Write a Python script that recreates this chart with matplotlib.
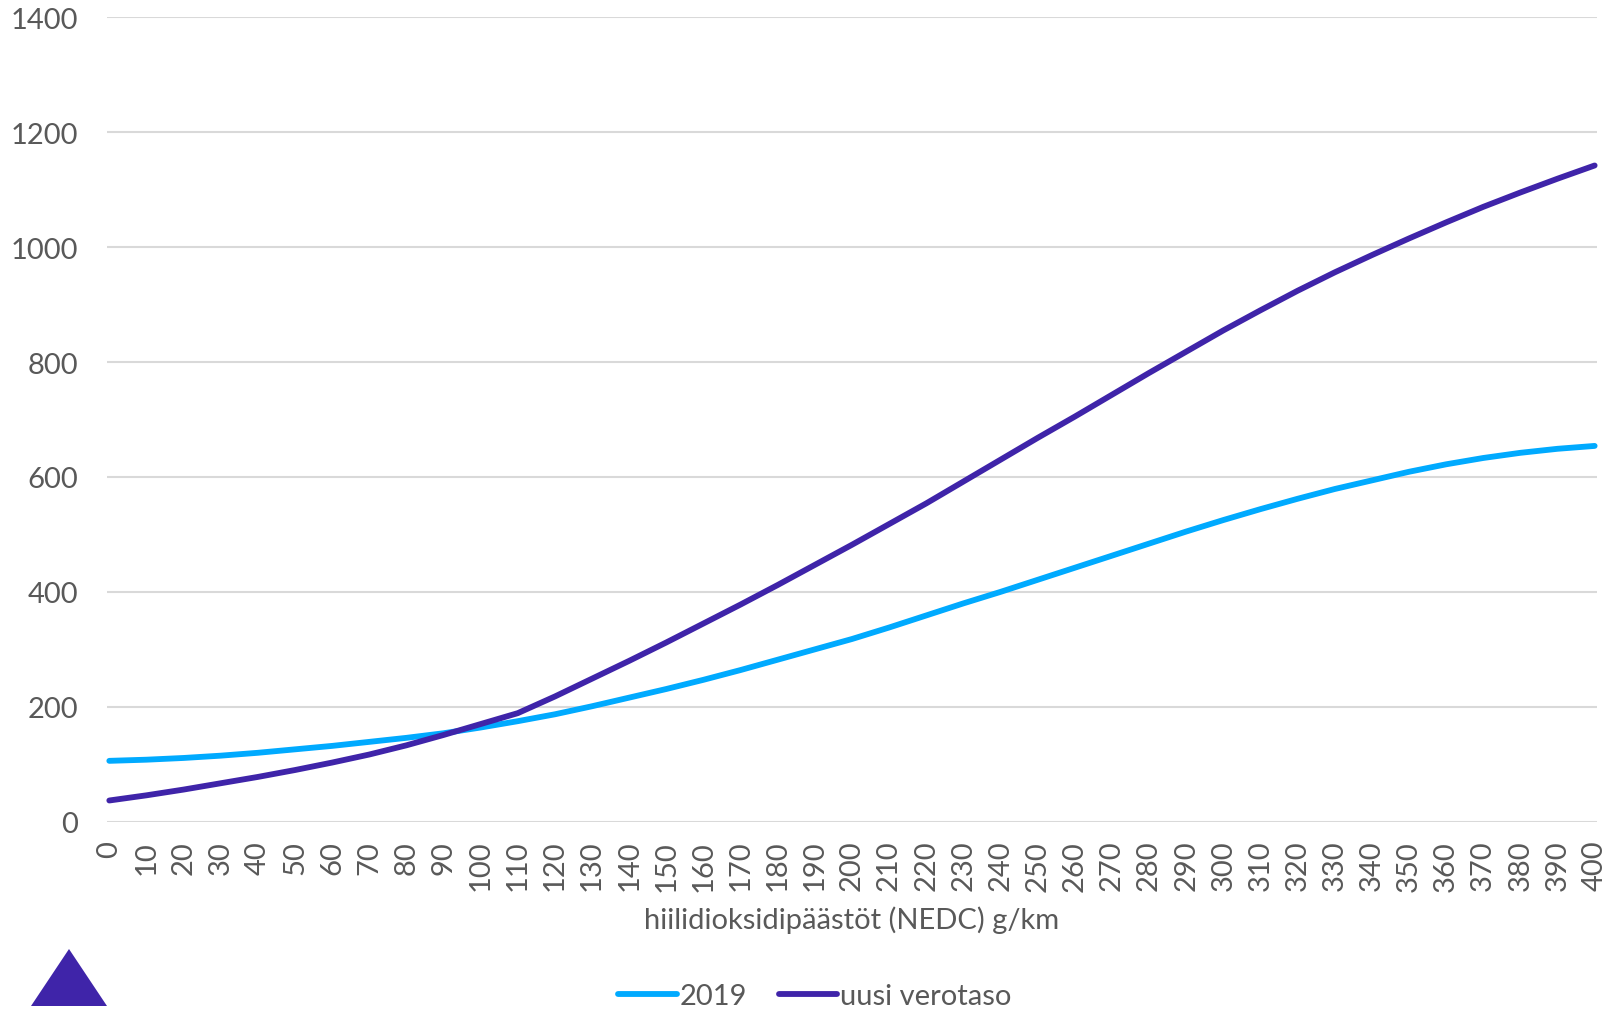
import matplotlib
matplotlib.use("Agg")
import matplotlib.pyplot as plt
from matplotlib.patches import Polygon

# CO2 emissions (g/km) and annual basic vehicle tax (EUR)
co2 = list(range(0, 401, 10))
tax_2019 = [106, 108, 111, 115, 120, 126, 132, 139, 146, 154,
            164, 175, 187, 201, 216, 231, 247, 264, 282, 300,
            318, 338, 359, 380, 400, 421, 442, 463, 484, 505,
            525, 544, 562, 579, 594, 609, 622, 633, 642, 649,
            654]
tax_new = [37, 46, 56, 67, 78, 90, 103, 117, 133, 151,
           170, 189, 218, 249, 280, 312, 345, 378, 412, 447,
           482, 518, 554, 592, 630, 668, 705, 743, 781, 818,
           855, 890, 924, 956, 986, 1015, 1043, 1070, 1095, 1119,
           1142]
series_labels = ["2019", "uusi verotaso"]
x_title = "hiilidioksidipäästöt (NEDC) g/km"
y_ticks = list(range(0, 1401, 200))

BLUE = "#00AAFF"
PURPLE = "#3F24A9"
TEXT = "#595959"
GRID = "#D9D9D9"
FS = 21

plt.rcParams["font.family"] = ["Lato", "DejaVu Sans"]

fig = plt.figure(figsize=(16.11, 10.12), dpi=100)
ax = fig.add_axes([0.0667, 0.187, 0.9243, 0.795])

ax.plot(co2, tax_2019, color=BLUE, lw=4.2, solid_capstyle="round",
        solid_joinstyle="round", label=series_labels[0], zorder=3,
        clip_on=False)
ax.plot(co2, tax_new, color=PURPLE, lw=4.2, solid_capstyle="round",
        solid_joinstyle="round", label=series_labels[1], zorder=4,
        clip_on=False)

ax.set_xlim(-0.5, 400.5)
ax.set_ylim(0, 1400)
ax.set_xticks(co2)
ax.set_xticklabels([str(v) for v in co2], rotation=90)
ax.set_yticks(y_ticks)
ax.set_yticklabels([str(v) for v in y_ticks])
ax.tick_params(axis="both", length=0, labelsize=FS, labelcolor=TEXT)
ax.tick_params(axis="x", pad=13)
ax.tick_params(axis="y", pad=21)
ax.grid(axis="y", color=GRID, lw=1.5, zorder=0)
ax.set_axisbelow(True)
for s in ax.spines.values():
    s.set_visible(False)

fig.text(852 / 1611, 1 - 920 / 1012, x_title, ha="center", va="center",
         fontsize=FS, color=TEXT)

leg = fig.legend(loc="center", bbox_to_anchor=(815 / 1611, 1 - 997 / 1012),
                 ncol=2, frameon=False, fontsize=FS, handlelength=2.0,
                 handletextpad=0.1, columnspacing=1.1, borderaxespad=0)
for t in leg.get_texts():
    t.set_color(TEXT)
for h in leg.legend_handles:
    h.set_linewidth(4.2)

# corner emblem
tri = Polygon([(31 / 1611, 1 - 1007 / 1012), (107 / 1611, 1 - 1007 / 1012),
               (69 / 1611, 1 - 950 / 1012)], closed=True,
              transform=fig.transFigure, facecolor=PURPLE, edgecolor="none")
fig.patches.append(tri)

fig.savefig("out.png", dpi=100, facecolor="white")
